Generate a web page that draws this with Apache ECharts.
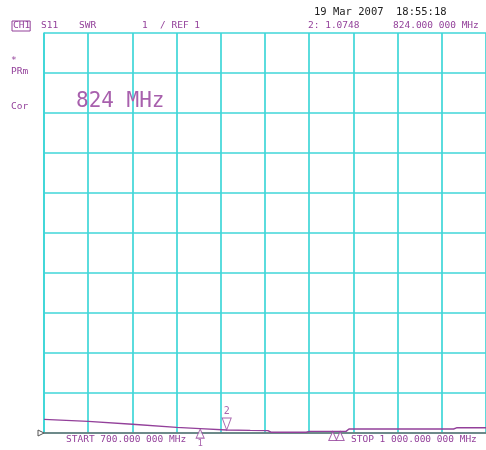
<!DOCTYPE html>
<html>
<head>
<meta charset="utf-8">
<script src="https://cdn.jsdelivr.net/npm/echarts@6/dist/echarts.min.js"></script>
<style>
  html, body { margin: 0; padding: 0; background: #fff; }
  #chart { width: 486px; height: 450px; }
</style>
</head>
<body>
<div id="chart"></div>
<script>
// S11 SWR sweep, 700 MHz to 1000 MHz, 1 unit/div, reference 1
const freqMHz = [700, 730, 760, 790, 806, 824, 840, 852, 854, 878, 880, 905, 907, 978, 980, 1000];
const swr     = [1.34, 1.29, 1.22, 1.14, 1.11, 1.0748, 1.065, 1.06, 1.02, 1.02, 1.04, 1.04, 1.10, 1.10, 1.13, 1.13];

// Markers: 1 and 3,4 passive (below trace), 2 active (above trace)
const markerNames = ['1', '2', '3', '4'];
const markerFreq  = [806, 824, 896, 901];
const markerSwr   = [1.11, 1.0748, 1.05, 1.05];

const xTicks = { min: 700, max: 1000, step: 30 };
const yTicks = { min: 1, max: 11, step: 1 };

const PURPLE = '#93409a';
const CYAN = '#3fd6d8';
const MONO = '"DejaVu Sans Mono", "Liberation Mono", monospace';

const chart = echarts.init(document.getElementById('chart'), null, { renderer: 'canvas' });

function txt(x, y, s, opt) {
  return {
    type: 'text', x: x, y: y, z: 10,
    style: Object.assign({
      text: s, fill: PURPLE, font: '9.5px ' + MONO, textVerticalAlign: 'middle'
    }, opt || {})
  };
}

const passive = markerNames.map((n, i) => ({ n, f: markerFreq[i], v: markerSwr[i] })).filter(m => m.n !== '2');
const active = markerNames.map((n, i) => ({ n, f: markerFreq[i], v: markerSwr[i] })).filter(m => m.n === '2');

chart.setOption({
  animation: false,
  backgroundColor: '#ffffff',
  grid: { left: 44, top: 33, width: 444, height: 400, containLabel: false },
  xAxis: {
    type: 'value', min: xTicks.min, max: xTicks.max, interval: xTicks.step,
    axisLabel: { show: false }, axisTick: { show: false },
    axisLine: { show: true, lineStyle: { color: '#6e6e6e', width: 1.6 } },
    splitLine: { show: true, lineStyle: { color: CYAN, width: 1.7 } }
  },
  yAxis: {
    type: 'value', min: yTicks.min, max: yTicks.max, interval: yTicks.step,
    axisLabel: { show: false }, axisTick: { show: false },
    axisLine: { show: true, lineStyle: { color: CYAN, width: 1.7 } },
    splitLine: { show: true, lineStyle: { color: CYAN, width: 1.7 } }
  },
  series: [
    {
      type: 'line', data: freqMHz.map((f, i) => [f, swr[i]]),
      showSymbol: false, z: 5,
      lineStyle: { color: PURPLE, width: 1.4 }
    },
    {
      type: 'scatter', z: 6,
      data: passive.map(m => ({ value: [m.f, m.v], name: m.n })),
      symbol: 'triangle', symbolSize: [8, 9], symbolOffset: [0, 5],
      itemStyle: { color: '#ffffff', borderColor: PURPLE, borderWidth: 1 },
      label: {
        show: true, position: 'bottom', distance: 1, formatter: p => p.data.name === '1' ? '1' : '',
        color: PURPLE, fontFamily: MONO, fontSize: 9
      }
    },
    {
      type: 'scatter', z: 6,
      data: active.map(m => ({ value: [m.f, m.v], name: m.n })),
      symbol: 'path://M0,0 L10,0 L5,12 Z', symbolSize: [9, 12], symbolOffset: [0, -6],
      itemStyle: { color: '#ffffff', borderColor: PURPLE, borderWidth: 1 },
      label: {
        show: true, position: 'top', distance: 1, formatter: p => p.data.name,
        color: PURPLE, fontFamily: MONO, fontSize: 10
      }
    }
  ],
  graphic: [
    txt(12, 26, 'CH1', { borderColor: PURPLE, borderWidth: 1, padding: [0, 0, 0, 1] }),
    txt(41, 26, 'S11'),
    txt(79, 26, 'SWR'),
    txt(142, 26, '1'),
    txt(160, 26, '/ REF 1'),
    txt(314, 12, '19 Mar 2007', { fill: '#222', font: '10.5px ' + MONO }),
    txt(396, 12, '18:55:18', { fill: '#222', font: '10.5px ' + MONO }),
    txt(308, 26, '2: 1.0748'),
    txt(393, 26, '824.000 000 MHz'),
    txt(11, 61, '*'),
    txt(11, 72, 'PRm'),
    txt(11, 107, 'Cor'),
    txt(76, 102, '824 MHz', { font: '21px ' + MONO, fill: '#a860ad' }),
    txt(66, 440, 'START 700.000 000 MHz'),
    txt(351, 440, 'STOP 1 000.000 000 MHz'),
    {
      type: 'polygon', z: 10,
      shape: { points: [[38, 430], [44, 433], [38, 436]] },
      style: { fill: '#fff', stroke: '#555', lineWidth: 1 }
    }
  ]
});
</script>
</body>
</html>
